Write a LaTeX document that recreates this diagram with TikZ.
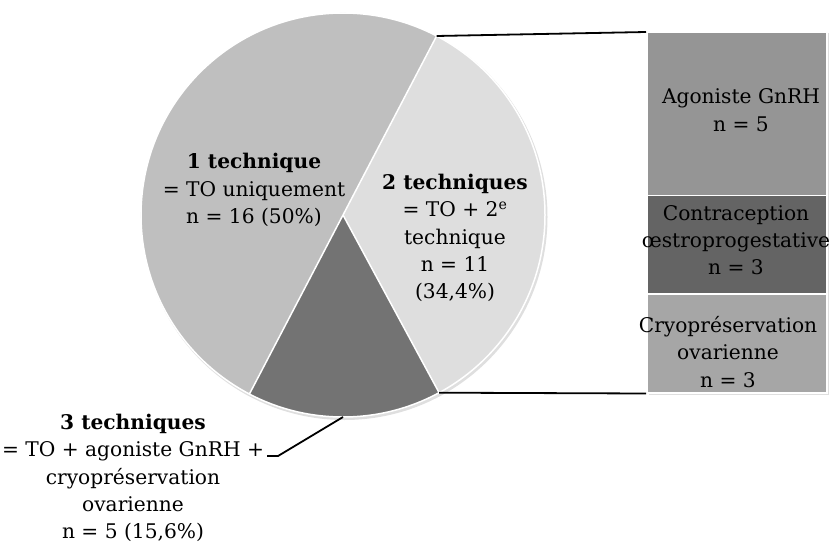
\documentclass[tikz,border=0pt]{standalone}
\usepackage{fontspec}
\usetikzlibrary{calc}
\setmainfont{DejaVu Serif}
\begin{document}
\begin{tikzpicture}[x=1pt,y=1pt,
  lbl/.style={align=center,inner sep=0pt,font=\fontsize{20.2}{27.3}\selectfont},
  slice/.style={draw=white,line width=1.5pt,line join=round},
  boxpart/.style={draw=white,line width=1.5pt},
  conn/.style={draw=black,line width=1.8pt}]
\useasboundingbox (0,0) rectangle (832,550);
\definecolor{sA}{HTML}{BFBFBF}
\definecolor{sB}{HTML}{DEDEDE}
\definecolor{sC}{HTML}{737373}
\definecolor{bA}{HTML}{959595}
\definecolor{bB}{HTML}{646464}
\definecolor{bC}{HTML}{A6A6A6}
\coordinate (C) at (343,335);
% shadows
\fill[gray!25] ($(C)+(1.5,-2)$) circle (203);
\fill[gray!25] (648.5,155) rectangle (829,516.5);
% pie
\fill[sA] (C) -- ++(62.4:202) arc (62.4:242.4:202) -- cycle;
\fill[sB] (C) -- ++(-61.6:202) arc (-61.6:62.4:202) -- cycle;
\fill[sC] (C) -- ++(242.4:202) arc (242.4:298.4:202) -- cycle;
\draw[slice] (C) -- ++(62.4:202);
\draw[slice] (C) -- ++(-61.6:202);
\draw[slice] (C) -- ++(242.4:202);
\draw[white,line width=1.5pt] (C) circle (202);
\coordinate (pT) at ($(C)+(62.4:202)$);
\coordinate (pB) at ($(C)+(-61.6:202)$);
\coordinate (pD) at ($(C)+(-90:202)$);
% boxes
\path[boxpart,fill=bA] (647,354.5) rectangle (827,518);
\path[boxpart,fill=bB] (647,256) rectangle (827,354.5);
\path[boxpart,fill=bC] (647,157) rectangle (827,256);
\coordinate (bTL) at (646,518);
\coordinate (bBL) at (646,156.5);
\draw[conn] (pT) -- (bTL);
\draw[conn] (pB) -- (bBL);
% labels
\node[lbl] (l1) at (254,360) {\textbf{1 technique}\\= TO uniquement\\n = 16 (50\%)};
\node[lbl] (l2) at (455,312) {\textbf{2 techniques}\\= TO + 2\textsuperscript{e}\\technique\\n = 11\\(34,4\%)};
\node[lbl] (l3) at (133,72) {\textbf{3 techniques}\\= TO + agoniste GnRH +\\cryopréservation\\ovarienne\\n = 5 (15,6\%)};
\node[lbl] (bt1) at (741,440) {Agoniste GnRH\\n = 5};
\node[lbl] (bt2) at (736,310) {Contraception\\œstroprogestative\\n = 3};
\node[lbl] (bt3) at (728,198) {Cryopréservation\\ovarienne\\n = 3};
\coordinate (k1) at (267,94);
\coordinate (k2) at (278,94);
\draw[conn] (k1) -- (k2) -- (pD);
\end{tikzpicture}
\end{document}
